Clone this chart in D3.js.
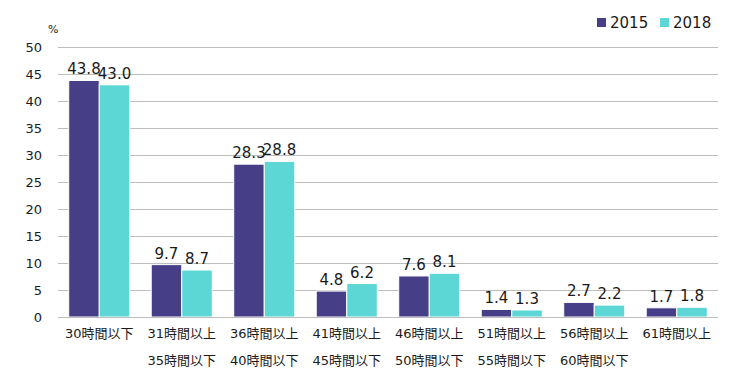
<!DOCTYPE html>
<html>
<head>
<meta charset="utf-8">
<script src="https://cdn.jsdelivr.net/npm/d3@7"></script>
<style>
  body { margin: 0; background: #fff; }
  text { font-family: "DejaVu Sans", Verdana, "Noto Sans CJK JP", sans-serif; fill: #1a1a1a; }
</style>
</head>
<body>
<div class="graph"></div>
<script>
const w = 751;
const h = 388;
const margin = {top: 47, right: 33, bottom: 71, left: 58};

const categories = [
  ["30時間以下"],
  ["31時間以上", "35時間以下"],
  ["36時間以上", "40時間以下"],
  ["41時間以上", "45時間以下"],
  ["46時間以上", "50時間以下"],
  ["51時間以上", "55時間以下"],
  ["56時間以上", "60時間以下"],
  ["61時間以上"]
];
const seriesNames = ["2015", "2018"];
const values2015 = [43.8, 9.7, 28.3, 4.8, 7.6, 1.4, 2.7, 1.7];
const values2018 = [43.0, 8.7, 28.8, 6.2, 8.1, 1.3, 2.2, 1.8];
const yTicks = [0, 5, 10, 15, 20, 25, 30, 35, 40, 45, 50];
const colors = ["#463f87", "#5dd6d6"];

const series = [values2015, values2018];

const canvas = d3.select(".graph")
                 .append("svg")
                 .attr("width", w)
                 .attr("height", h);

const x = d3.scaleBand()
            .domain(d3.range(categories.length))
            .range([margin.left, w - margin.right])
            .paddingInner(0.26)
            .paddingOuter(0.13);

const x1 = d3.scaleBand()
             .domain(d3.range(seriesNames.length))
             .range([0, x.bandwidth()]);

const y = d3.scaleLinear()
            .domain([0, 50])
            .range([h - margin.bottom, margin.top]);

// gridlines
canvas.append("g")
      .selectAll("line")
      .data(yTicks.filter(d => d > 0))
      .enter().append("line")
      .attr("x1", margin.left)
      .attr("x2", w - margin.right)
      .attr("y1", d => Math.round(y(d)) + 0.5)
      .attr("y2", d => Math.round(y(d)) + 0.5)
      .attr("stroke", "#bdbdbd")
      .attr("stroke-width", 1);

// y labels
canvas.append("g")
      .selectAll("text")
      .data(yTicks)
      .enter().append("text")
      .attr("x", 42)
      .attr("y", d => y(d))
      .attr("dy", "0.35em")
      .attr("text-anchor", "end")
      .attr("font-size", 13)
      .text(d => d);

canvas.append("text")
      .attr("x", 48)
      .attr("y", 33)
      .attr("font-size", 11)
      .text("%");

// bars
const groups = canvas.append("g")
      .selectAll("g")
      .data(categories)
      .enter().append("g")
      .attr("transform", (d, i) => `translate(${x(i)},0)`);

groups.selectAll("rect")
      .data((d, i) => series.map((s, k) => ({k: k, v: s[i]})))
      .enter().append("rect")
      .attr("x", d => x1(d.k))
      .attr("width", x1.bandwidth())
      .attr("y", d => y(d.v))
      .attr("height", d => y(0) - y(d.v))
      .attr("fill", d => colors[d.k])
      .attr("stroke", "#fff")
      .attr("stroke-width", 1);

groups.selectAll("text.val")
      .data((d, i) => series.map((s, k) => ({k: k, v: s[i]})))
      .enter().append("text")
      .attr("class", "val")
      .attr("x", d => x1(d.k) + x1.bandwidth() / 2)
      .attr("y", d => y(d.v) - 6)
      .attr("text-anchor", "middle")
      .attr("font-size", 15)
      .text(d => d.v.toFixed(1));

// axis line
canvas.append("line")
      .attr("x1", margin.left)
      .attr("x2", w - margin.right)
      .attr("y1", Math.round(y(0)) + 0.5)
      .attr("y2", Math.round(y(0)) + 0.5)
      .attr("stroke", "#bdbdbd");

// category labels
groups.each(function(d) {
  const g = d3.select(this);
  d.forEach((line, j) => {
    g.append("text")
     .attr("x", x.bandwidth() / 2)
     .attr("y", 338 + j * 27)
     .attr("text-anchor", "middle")
     .attr("font-size", 13)
     .text(line);
  });
});

// legend
const legend = canvas.append("g")
      .selectAll("g")
      .data(seriesNames)
      .enter().append("g")
      .attr("transform", (d, i) => `translate(${597 + i * 63},18)`);

legend.append("rect")
      .attr("width", 9)
      .attr("height", 9)
      .attr("fill", (d, i) => colors[i]);

legend.append("text")
      .attr("x", 13)
      .attr("y", 10)
      .attr("font-size", 15)
      .text(d => d);
</script>
</body>
</html>
